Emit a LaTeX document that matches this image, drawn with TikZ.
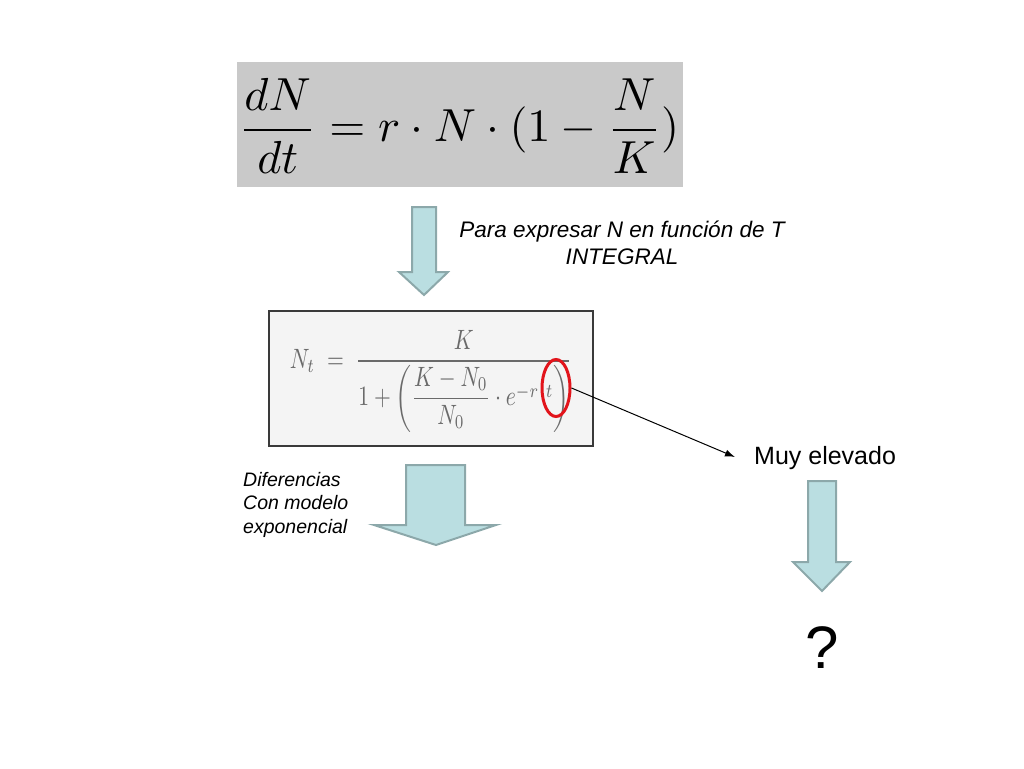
\documentclass[tikz,border=0pt]{standalone}
\usepackage[no-math]{fontspec}
\usepackage{amsmath}
\usepackage{graphicx}
\newfontfamily\arial{Liberation Sans}
\usetikzlibrary{shapes.geometric,arrows.meta}
\definecolor{eqgray}{HTML}{C9C9C9}
\definecolor{boxfill}{HTML}{F4F4F4}
\definecolor{boxline}{HTML}{3A3A3A}
\definecolor{eqtext}{HTML}{6A6A6A}
\definecolor{arrfill}{HTML}{BADEE1}
\definecolor{arrline}{HTML}{8CA8AA}
\definecolor{ringred}{HTML}{E2141B}
\tikzset{
  blockarrow/.style={fill=arrfill, draw=arrline, line width=2pt, line join=miter},
  itlabel/.style={font=\arial\itshape, align=center, inner sep=0pt},
  plainlabel/.style={font=\arial, inner sep=0pt},
}
\begin{document}
\begin{tikzpicture}[x=1pt,y=-1pt]
\useasboundingbox (0,0) rectangle (1024,768);
% top equation
\node[fill=eqgray, minimum width=446pt, minimum height=125pt, inner sep=0pt] (eqa) at (460,124.5) {};
\node[inner sep=0pt] (eqatext) at (459,126) {\resizebox{440pt}{!}{$\displaystyle\frac{dN}{dt}=r\cdot N\cdot(1-\frac{N}{K})$}};
% arrow 1
\draw[blockarrow] (412,207) -- (436,207) -- (436,272) -- (448,272) -- (424,295) -- (399,272) -- (412,272) -- cycle;
\node[itlabel, font=\arial\itshape\fontsize{22.5}{27}\selectfont] (lab1) at (622,243) {Para expresar N en función de T\\INTEGRAL};
% second equation box
\node[fill=boxfill, draw=boxline, line width=1.5pt, minimum width=324pt, minimum height=135pt, inner sep=0pt] (eqb) at (431,378.5) {};
\node[inner sep=0pt, text=eqtext] (eqbtext) at (431,381) {\resizebox*{282pt}{102pt}{$N_t\;=\;\dfrac{K}{1+\left(\dfrac{K-N_0}{N_0}\cdot e^{-r\;\,t}\right)}$}};
\node[draw=ringred, ellipse, line width=3pt, minimum width=28pt, minimum height=57pt, inner sep=0pt] (ring) at (556,388) {};
% Muy elevado
\node[plainlabel, font=\arial\fontsize{25}{30}\selectfont, anchor=west] (muy) at (754,458) {Muy elevado};
\coordinate (muytip) at (735,457);
\draw[line width=1pt, -{Latex[length=10pt,width=7pt]}] (ring.east) -- (muytip);
% arrow 2
\draw[blockarrow] (406,465) -- (465,465) -- (465,525) -- (496,525) -- (436,545) -- (374,525) -- (406,525) -- cycle;
\node[itlabel, align=left, anchor=north west, font=\arial\itshape\fontsize{19.5}{23.5}\selectfont] (lab2) at (243,472) {Diferencias\\Con modelo\\exponencial};
% arrow 3
\draw[blockarrow] (808,481) -- (836,481) -- (836,562) -- (850,562) -- (822,591) -- (793,562) -- (808,562) -- cycle;
\node[plainlabel, font=\arial\fontsize{60}{70}\selectfont] (q) at (822,648) {?};
\end{tikzpicture}
\end{document}
